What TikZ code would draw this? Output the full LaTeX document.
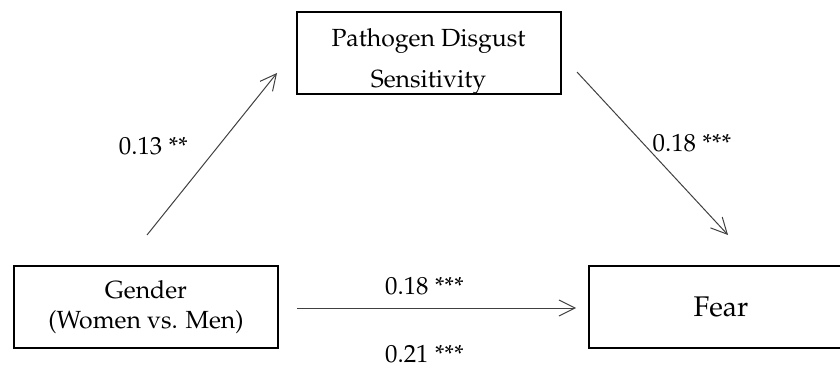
\documentclass[tikz,border=0pt]{standalone}
\usepackage[T1]{fontenc}
\usepackage{mathpazo}
\usetikzlibrary{arrows.meta}

\begin{document}
\begin{tikzpicture}[
		x=0.5pt, y=-0.5pt,
		every node/.style={font=\fontsize{12.4}{15}\selectfont},
		box/.style={rectangle, draw=black, line width=1pt, minimum width=132pt, minimum height=41pt, inner sep=0pt, align=center},
		arrow/.style={-{Straight Barb[length=8pt, width=8pt]}, draw=black!75, line width=0.5pt}
	]

	\useasboundingbox (0,0) rectangle (840,369);
	\clip (0,0) rectangle (840,369);

	% Nodes
	\node[box] (PDS) at (428.5,53) {\raisebox{-7.3pt}[0pt][0pt]{\begin{tabular}{@{}c@{}}Pathogen Disgust\\[5.5pt]Sensitivity\end{tabular}}};
	\node[box] (GEN) at (146,307) {Gender\\(Women vs. Men)};
	\node[box, font=\fontsize{14.2}{17}\selectfont] (FEAR) at (721,307) {Fear};

	% Arrow ends
	\coordinate (a1) at (147,235);
	\coordinate (b1) at (277,73);
	\coordinate (a2) at (577,72);
	\coordinate (b2) at (728,235);
	\coordinate (a3) at (297,308);
	\coordinate (b3) at (576,308);

	% Arrows
	\draw[arrow] (a1) -- (b1) node[midway, left=8.5pt, yshift=4pt] {0.13 **};
	\draw[arrow] (a2) -- (b2) node[midway, right=-3.5pt, yshift=5pt] {0.18 ***};
	\draw[arrow] (a3) -- (b3) node[midway, above=3pt, xshift=-6pt] {0.18 ***}
		node[midway, below=17.3pt, xshift=-6pt, inner sep=1pt] {0.21 ***};

\end{tikzpicture}
\end{document}
